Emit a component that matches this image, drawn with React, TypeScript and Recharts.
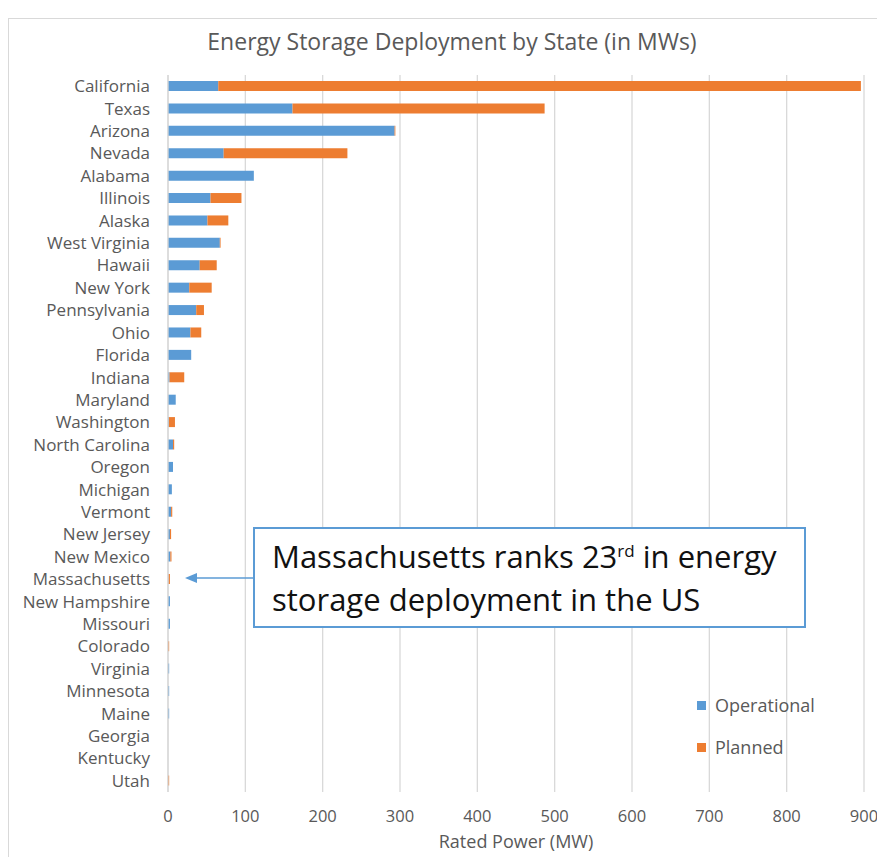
import { Bar, BarChart, CartesianGrid, XAxis, YAxis } from 'recharts'

const states = [
  'California', 'Texas', 'Arizona', 'Nevada', 'Alabama', 'Illinois', 'Alaska', 'West Virginia',
  'Hawaii', 'New York', 'Pennsylvania', 'Ohio', 'Florida', 'Indiana', 'Maryland', 'Washington',
  'North Carolina', 'Oregon', 'Michigan', 'Vermont', 'New Jersey', 'New Mexico', 'Massachusetts',
  'New Hampshire', 'Missouri', 'Colorado', 'Virginia', 'Minnesota', 'Maine', 'Georgia', 'Kentucky', 'Utah',
]
const operational = [
  65, 161, 293, 72, 111, 55, 51, 67, 41, 27.5, 36.5, 29, 30, 2, 10, 1,
  6.5, 6.5, 5, 4, 2.5, 3, 0.5, 2.5, 2.5, 0, 1.5, 1.5, 1.5, 0, 0, 0,
]
const planned = [
  831, 326, 1, 160, 0, 40, 27, 1, 22, 29, 10, 14, 0, 19, 0, 8,
  1.5, 0, 0, 1.5, 1.5, 1.5, 2, 0, 0, 1.5, 0, 0, 0, 0, 0, 1.5,
]
const xTicks = [0, 100, 200, 300, 400, 500, 600, 700, 800, 900]
const legendItems = ['Operational', 'Planned']

const data = states.map((state, i) => ({ state, operational: operational[i], planned: planned[i] }))

const BLUE = '#5B9BD5'
const ORANGE = '#ED7D31'
const GREY = '#595959'
const FONT = '"Open Sans", sans-serif'
const legendColors = [BLUE, ORANGE]

export default function App() {
  return (
    <div style={{ position: 'relative', width: 877, height: 849, fontFamily: FONT }}>
      <div
        style={{
          position: 'absolute', left: 0, top: 10, width: 877, height: 850,
          border: '1px solid #d9d9d9', boxSizing: 'border-box',
        }}
      />
      <div
        style={{
          position: 'absolute', left: 0, top: 17, width: 888, textAlign: 'center',
          fontSize: 23, color: GREY, fontFamily: FONT,
        }}
      >
        Energy Storage Deployment by State (in MWs)
      </div>
      <BarChart
        width={877}
        height={849}
        data={data}
        layout="vertical"
        margin={{ top: 67, right: 21, bottom: 5, left: 0 }}
        barSize={10}
        style={{ position: 'absolute', left: 0, top: 0 }}
      >
        <CartesianGrid horizontal={false} stroke="#d9d9d9" strokeWidth={1.3} />
        <XAxis
          type="number"
          domain={[0, 900]}
          ticks={xTicks}
          tickLine={false}
          axisLine={false}
          tickSize={0}
          tickMargin={18}
          height={60}
          tick={{ fill: GREY, fontSize: 16.5, fontFamily: FONT }}
          label={{ value: 'Rated Power (MW)', position: 'insideBottom', offset: 4, fill: GREY, fontSize: 18, fontFamily: FONT }}
        />
        <YAxis
          type="category"
          dataKey="state"
          width={160}
          interval={0}
          tickLine={false}
          axisLine={{ stroke: '#d9d9d9', strokeWidth: 1.3 }}
          tickSize={0}
          tickMargin={18}
          tick={{ fill: GREY, fontSize: 17, fontFamily: FONT }}
        />
        <Bar dataKey="operational" name="Operational" stackId="a" fill={BLUE} isAnimationActive={false} />
        <Bar dataKey="planned" name="Planned" stackId="a" fill={ORANGE} isAnimationActive={false} />
      </BarChart>
      <div style={{ position: 'absolute', left: 689, top: 676, fontSize: 18, color: GREY, fontFamily: FONT }}>
        {legendItems.map((label, i) => (
          <div key={label} style={{ display: 'flex', alignItems: 'center', height: 42 }}>
            <span style={{ width: 9, height: 9, background: legendColors[i], marginRight: 9, display: 'inline-block' }} />
            {label}
          </div>
        ))}
      </div>
      <svg style={{ position: 'absolute', left: 0, top: 0, pointerEvents: 'none' }} width={877} height={849}>
        <line x1={245} y1={570} x2={186} y2={570} stroke={BLUE} strokeWidth={1.3} />
        <polygon points="177,570 189,565 189,575" fill={BLUE} />
      </svg>
      <div
        style={{
          position: 'absolute', left: 245, top: 519, width: 553, height: 101,
          border: `2px solid ${BLUE}`, boxSizing: 'border-box', background: '#fff',
          padding: '6px 0 0 17px', fontSize: 31, lineHeight: '43px', color: '#111', fontFamily: FONT,
          whiteSpace: 'nowrap',
        }}
      >
        Massachusetts ranks 23<sup style={{ fontSize: 17, lineHeight: 0 }}>rd</sup> in energy
        <br />
        storage deployment in the US
      </div>
    </div>
  )
}
